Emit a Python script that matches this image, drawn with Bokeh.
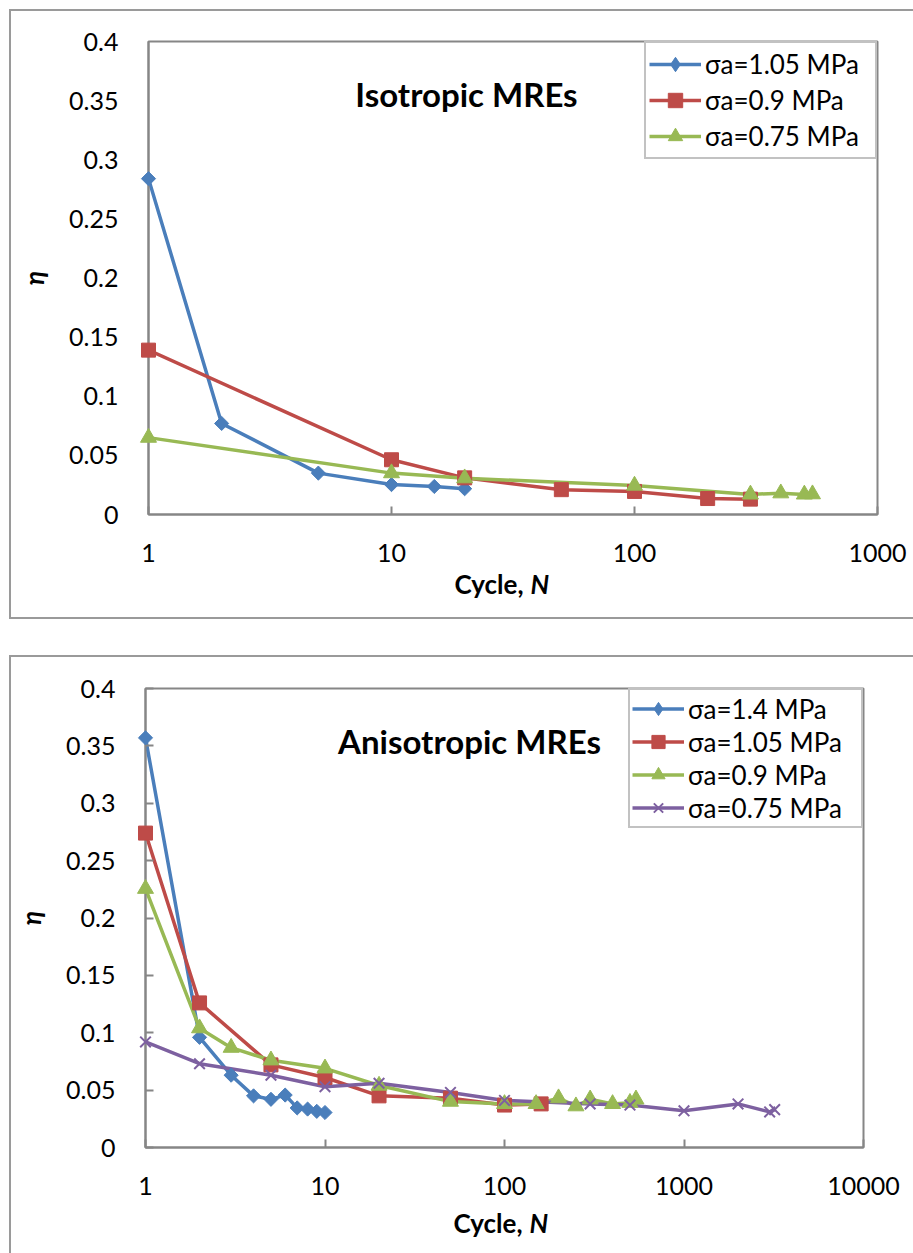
import math

from bokeh.embed import file_html
from bokeh.layouts import column
from bokeh.models import FixedTicker, InlineStyleSheet, Label, Legend, LegendItem, Range1d
from bokeh.plotting import figure
from bokeh.resources import INLINE

# ---------------- data ----------------
# Isotropic MREs: cycle count N and loss factor eta per stress amplitude
iso_labels = ["σa=1.05 MPa", "σa=0.9 MPa", "σa=0.75 MPa"]
iso_n_105 = [1, 2, 5, 10, 15, 20]
iso_eta_105 = [0.284, 0.077, 0.035, 0.0253, 0.0237, 0.0218]
iso_n_090 = [1, 10, 20, 50, 100, 200, 300]
iso_eta_090 = [0.139, 0.0463, 0.031, 0.021, 0.0195, 0.0135, 0.013]
iso_n_075 = [1, 10, 20, 100, 300, 400, 500, 540]
iso_eta_075 = [0.065, 0.035, 0.0307, 0.0245, 0.017, 0.018, 0.017, 0.0172]

# Anisotropic MREs
an_labels = ["σa=1.4 MPa", "σa=1.05 MPa", "σa=0.9 MPa", "σa=0.75 MPa"]
an_n_14 = [1, 2, 3, 4, 5, 6, 7, 8, 9, 10]
an_eta_14 = [0.357, 0.096, 0.063, 0.045, 0.042, 0.0457, 0.0345, 0.0335, 0.0315, 0.0305]
an_n_105 = [1, 2, 5, 10, 20, 50, 100, 160]
an_eta_105 = [0.274, 0.126, 0.072, 0.061, 0.045, 0.043, 0.037, 0.038]
an_n_09 = [1, 2, 3, 5, 10, 20, 50, 100, 150, 200, 250, 300, 400, 500, 540]
an_eta_09 = [0.2255, 0.104, 0.087, 0.076, 0.069, 0.054, 0.040, 0.038, 0.038,
             0.043, 0.036, 0.042, 0.038, 0.039, 0.042]
an_n_075 = [1, 2, 5, 10, 20, 50, 100, 300, 500, 1000, 2000, 3000, 3200]
an_eta_075 = [0.092, 0.073, 0.063, 0.053, 0.056, 0.048, 0.041, 0.038, 0.037,
              0.032, 0.038, 0.031, 0.033]

# axis ticks
eta_ticks = [0, 0.05, 0.1, 0.15, 0.2, 0.25, 0.3, 0.35, 0.4]
eta_tick_labels = ["0", "0.05", "0.1", "0.15", "0.2", "0.25", "0.3", "0.35", "0.4"]
iso_n_ticks = [1, 10, 100, 1000]
iso_n_tick_labels = ["1", "10", "100", "1000"]
an_n_ticks = [1, 10, 100, 1000, 10000]
an_n_tick_labels = ["1", "10", "100", "1000", "10000"]

# ---------------- styling ----------------
BLUE = "#4A7EBB"
RED = "#BE4B48"
GREEN = "#98B954"
PURPLE = "#7D60A0"
GREY = "#868686"
FRAME_GREY = "#9a9a9a"
FONT = "Lato"
NAN = float("nan")


def chart_area_border(top_px, height_px):
    """Thin grey chart-area frame drawn over the figure (open on the right)."""
    h = f"height: {height_px}px;" if height_px else "bottom: 0; border-bottom: none;"
    return InlineStyleSheet(css=f"""
:host {{ position: relative; }}
:host::after {{
  content: ""; position: absolute; left: 9px; right: 0; top: {top_px}px;
  box-sizing: border-box;
  border: 2px solid {FRAME_GREY}; border-right: none;
  {h}
  pointer-events: none; z-index: 10;
}}
""")


def make_panel(height, left, right, top, bottom, n_hi, n_ticks, n_labels, y_tick_in):
    p = figure(
        width=913, height=height,
        x_axis_type="log",
        x_range=Range1d(1, n_hi), y_range=Range1d(0, 0.4),
        min_border_left=left, min_border_right=right,
        min_border_top=top, min_border_bottom=bottom,
        output_backend="svg", toolbar_location=None,
        background_fill_color="white", border_fill_color="white",
        frame_align=False,
    )
    p.grid.visible = False
    p.outline_line_color = GREY
    p.outline_line_width = 2

    p.xaxis.ticker = FixedTicker(ticks=n_ticks, minor_ticks=[])
    p.xaxis.major_label_overrides = {t: s for t, s in zip(n_ticks, n_labels)}
    p.yaxis.ticker = FixedTicker(ticks=eta_ticks, minor_ticks=[])
    p.yaxis.major_label_overrides = {t: s for t, s in zip(eta_ticks, eta_tick_labels)}

    for ax in (p.xaxis, p.yaxis):
        ax.axis_line_color = GREY
        ax.axis_line_width = 2
        ax.major_tick_line_color = GREY
        ax.major_tick_line_width = 2
        ax.major_tick_out = 0
        ax.minor_tick_line_color = None
        ax.major_label_text_font = FONT
        ax.major_label_text_font_size = "25px"
        ax.major_label_text_color = "black"
    p.xaxis.major_tick_in = 8
    p.yaxis.major_tick_in = y_tick_in
    p.xaxis.major_label_standoff = 29
    p.yaxis.major_label_standoff = 30

    p.yaxis.axis_label = "η"
    p.yaxis.axis_label_text_font = FONT
    p.yaxis.axis_label_text_font_style = "bold italic"
    p.yaxis.axis_label_text_font_size = "26px"
    p.yaxis.axis_label_text_color = "black"
    p.yaxis.axis_label_standoff = 16
    return p


def log_x(px, left, width, hi):
    """Data x for a horizontal pixel position on a log axis running 1..hi."""
    return 10 ** ((px - left) / width * math.log10(hi))


def add_series(p, n, eta, color, marker, size):
    line = p.line(n, eta, line_color=color, line_width=3.5)
    # markers sit on top of the axes and are not cut at the plot edge
    if marker == "diamond":
        p.scatter(n, eta, marker="square", angle=math.pi / 4, size=size,
                  fill_color=color, line_color=color, level="overlay")
        # legend swatch (no data points)
        key = p.scatter([NAN], [NAN], marker="diamond", size=size * 1.45,
                        fill_color=color, line_color=color)
        return [line, key]
    if marker == "x":
        pts = p.scatter(n, eta, marker="x", size=size, line_color=color, line_width=2,
                        level="overlay")
    else:
        pts = p.scatter(n, eta, marker=marker, size=size, fill_color=color, line_color=color,
                        level="overlay")
    return [line, pts]


def add_legend(p, labels, renderer_sets, row_h, padding, label_w):
    items = [LegendItem(label=lab, renderers=r) for lab, r in zip(labels, renderer_sets)]
    legend = Legend(
        items=items, location="top_right", margin=0, padding=padding, spacing=0,
        glyph_width=52, glyph_height=row_h, label_height=row_h, label_width=label_w,
        label_standoff=4,
        label_text_font=FONT, label_text_font_size="26px", label_text_color="black",
        border_line_color=GREY, border_line_width=2,
        background_fill_color="white", background_fill_alpha=1.0,
    )
    p.add_layout(legend)


def add_cycle_label(p, x_comma, x_n, y):
    # kept in side panels so that they are not clipped to the plot area
    p.add_layout(Label(x=x_comma, y=y, text="Cycle,", text_align="right",
                       text_baseline="middle", text_font=FONT, text_font_size="26px",
                       text_font_style="bold", text_color="black"), "below")
    p.add_layout(Label(x=x_n, y=y, text="N", text_align="left",
                       text_baseline="middle", text_font=FONT, text_font_size="26px",
                       text_font_style="bold italic", text_color="black"), "right")


# ---------------- isotropic panel ----------------
T_LEFT, T_W, T_TOP, T_H = 148, 729, 41, 473
top = make_panel(636, T_LEFT, 913 - T_LEFT - T_W, T_TOP, 636 - T_TOP - T_H,
                 1000, iso_n_ticks, iso_n_tick_labels, 0)
top_sets = [
    add_series(top, iso_n_105, iso_eta_105, BLUE, "diamond", 10),
    add_series(top, iso_n_090, iso_eta_090, RED, "square", 14),
    add_series(top, iso_n_075, iso_eta_075, GREEN, "triangle", 16),
]
add_legend(top, iso_labels, top_sets, 36, 3, 167)
top.add_layout(Label(x=log_x(466, T_LEFT, T_W, 1000), y=0.4 - (93 - T_TOP) / T_H * 0.4,
                     text="Isotropic MREs", text_align="center", text_baseline="middle",
                     text_font=FONT, text_font_size="33px", text_font_style="bold",
                     text_color="black"))
add_cycle_label(top, log_x(523, T_LEFT, T_W, 1000), log_x(530, T_LEFT, T_W, 1000),
                -(583 - (T_TOP + T_H)) / T_H * 0.4)
top.stylesheets = [chart_area_border(9, 610)]

# ---------------- anisotropic panel ----------------
B_LEFT, B_W, B_TOP, B_H = 145, 718, 52, 459
bottom = make_panel(617, B_LEFT, 913 - B_LEFT - B_W, B_TOP, 617 - B_TOP - B_H,
                    10000, an_n_ticks, an_n_tick_labels, 8)
bottom_sets = [
    add_series(bottom, an_n_14, an_eta_14, BLUE, "diamond", 10),
    add_series(bottom, an_n_105, an_eta_105, RED, "square", 14),
    add_series(bottom, an_n_09, an_eta_09, GREEN, "triangle", 16),
    add_series(bottom, an_n_075, an_eta_075, PURPLE, "x", 15),
]
add_legend(bottom, an_labels, bottom_sets, 33, 2, 171)
bottom.add_layout(Label(x=log_x(469, B_LEFT, B_W, 10000), y=0.4 - (104 - B_TOP) / B_H * 0.4,
                        text="Anisotropic MREs", text_align="center", text_baseline="middle",
                        text_font=FONT, text_font_size="33px", text_font_style="bold",
                        text_color="black"))
add_cycle_label(bottom, log_x(522, B_LEFT, B_W, 10000), log_x(529, B_LEFT, B_W, 10000),
                -(586 - (B_TOP + B_H)) / B_H * 0.4)
bottom.stylesheets = [chart_area_border(19, 0)]

layout = column(top, bottom, spacing=0)
open("out.html", "w").write(file_html(layout, INLINE))
